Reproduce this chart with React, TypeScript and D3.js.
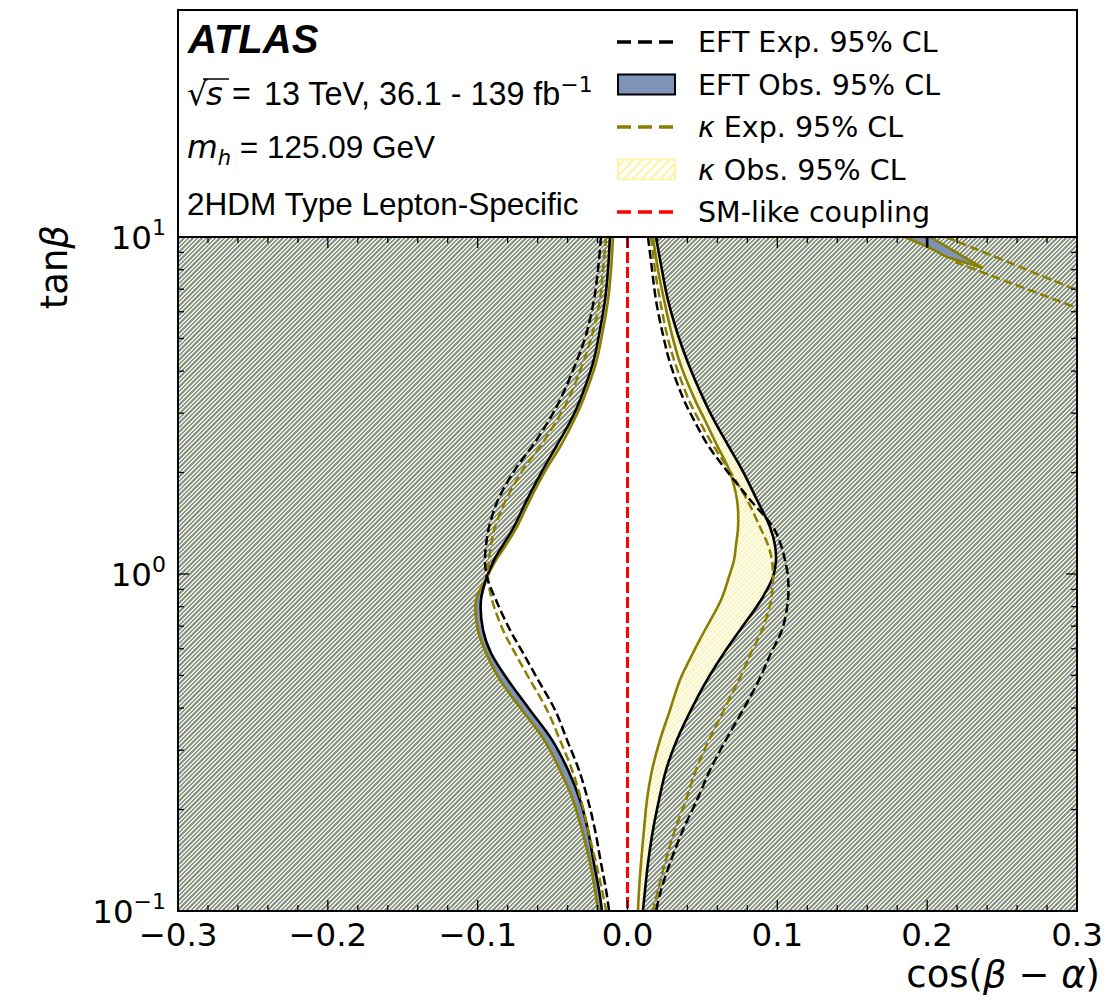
import React from "react";
import * as d3 from "d3";

// ---- data ----
const tanBeta = [10, 7.98, 6.5, 5.12, 4.23, 3.28, 2.86, 2.41, 2.04, 1.66, 1.379, 1.219, 1.1, 0.98, 0.837, 0.682, 0.583, 0.485, 0.395, 0.322, 0.262, 0.2135, 0.174, 0.1388, 0.1154, 0.1];

const eftExpLeft = [-0.0177, -0.0197, -0.0224, -0.0277, -0.0344, -0.0451, -0.0524, -0.0631, -0.0751, -0.0864, -0.0924, -0.0944, -0.0951, -0.0938, -0.0878, -0.0784, -0.0697, -0.0597, -0.0484, -0.0404, -0.0324, -0.0264, -0.0217, -0.0177, -0.0143, -0.0123];
const eftExpRight = [0.0137, 0.0164, 0.019, 0.0237, 0.0284, 0.0377, 0.0444, 0.0537, 0.0657, 0.0818, 0.0971, 0.1024, 0.1051, 0.1071, 0.1071, 0.1031, 0.0958, 0.0878, 0.0771, 0.0657, 0.0551, 0.0464, 0.037, 0.0284, 0.0224, 0.019];
const eftObsLeft = [-0.0117, -0.013, -0.015, -0.019, -0.023, -0.0317, -0.0377, -0.0471, -0.0564, -0.0671, -0.0758, -0.0831, -0.0891, -0.0938, -0.0978, -0.0964, -0.0911, -0.0798, -0.0651, -0.0504, -0.0397, -0.0317, -0.0264, -0.0224, -0.019, -0.017];
const eftObsRight = [0.019, 0.023, 0.027, 0.0337, 0.0404, 0.0511, 0.0577, 0.0671, 0.0764, 0.0864, 0.0951, 0.0984, 0.0991, 0.0971, 0.0891, 0.0751, 0.0644, 0.0531, 0.0424, 0.033, 0.0257, 0.021, 0.017, 0.0137, 0.0117, 0.0103];
const kappaExpLeft = [-0.0143, -0.0164, -0.0184, -0.0237, -0.0297, -0.0397, -0.0471, -0.0577, -0.0697, -0.0811, -0.0884, -0.0911, -0.0924, -0.0931, -0.0904, -0.0831, -0.0751, -0.0651, -0.0537, -0.0451, -0.037, -0.031, -0.0264, -0.021, -0.017, -0.0143];
const kappaExpRight = [0.0157, 0.0184, 0.0217, 0.0264, 0.0317, 0.041, 0.0477, 0.0571, 0.0677, 0.0798, 0.0884, 0.0938, 0.0964, 0.0971, 0.0958, 0.0898, 0.0824, 0.0744, 0.0644, 0.0544, 0.0457, 0.039, 0.0317, 0.025, 0.0204, 0.017];
const kappaObsLeft = [-0.0097, -0.011, -0.013, -0.017, -0.021, -0.0297, -0.0357, -0.0444, -0.0544, -0.0651, -0.0738, -0.0811, -0.0878, -0.0938, -0.1011, -0.0998, -0.0944, -0.0851, -0.0704, -0.0557, -0.0451, -0.0364, -0.0304, -0.025, -0.0217, -0.0197];
const kappaObsRight = [0.017, 0.0204, 0.0244, 0.0297, 0.035, 0.0451, 0.0517, 0.0597, 0.0677, 0.0731, 0.0738, 0.0724, 0.0711, 0.0677, 0.0624, 0.0517, 0.0437, 0.035, 0.0284, 0.0217, 0.0164, 0.013, 0.011, 0.009, 0.0077, 0.007];

// upper-right corner islands
const kappaObsCornerX = [0.1852, 0.2019, 0.2132, 0.2266, 0.2373, 0.2019];
const kappaObsCornerT = [10, 9.28, 8.72, 8.37, 8.09, 10];
const eftObsCornerX = [0.2, 0.2];
const eftObsCornerT = [10, 9.34];
const kappaExpCornerUpperX = [0.2126, 0.3];
const kappaExpCornerUpperT = [10, 6.96];
const kappaExpCornerLowerX = [0.2186, 0.3];
const kappaExpCornerLowerT = [8.43, 6.16];

const smLineX = 0;

const xTicks = [-0.3, -0.2, -0.1, 0.0, 0.1, 0.2, 0.3];
const xTickLabels = ["\u22120.3", "\u22120.2", "\u22120.1", "0.0", "0.1", "0.2", "0.3"];
const yTicks = [0.1, 1, 10];
const yTickExp = ["\u22121", "0", "1"];

const legendLabels = ["EFT Exp. 95% CL", "EFT Obs. 95% CL", "Exp. 95% CL", "Obs. 95% CL", "SM-like coupling"];

const BLUE = "#7f93b8";
const YEL = "#fdf3a8";
const OLIVE = "#8a7f00";
const DEJAVU = "DejaVu Sans";
const HELV = "Liberation Sans";

type P = [number, number];

export default function App() {
  const L = 178, R = 1077, T = 237, B = 911;
  const xS = d3.scaleLinear().domain([-0.3, 0.3]).range([L, R]);
  const yS = d3.scaleLog().domain([0.1, 10]).range([B, T]);
  const smooth = d3.line<P>().x((d) => xS(d[0])).y((d) => yS(d[1])).curve(d3.curveCatmullRom.alpha(0.5));
  const straight = d3.line<P>().x((d) => xS(d[0])).y((d) => yS(d[1]));
  const pts = (xs: number[]): P[] => xs.map((v, i) => [v, tanBeta[i]] as P);
  const zip = (xs: number[], ts: number[]): P[] => xs.map((v, i) => [v, ts[i]] as P);
  const region = (l: number[], r: number[]) => {
    const a = smooth(pts(l))!;
    const b = smooth(pts(r).reverse())!;
    return a + "L" + b.slice(1) + "Z";
  };
  const rectPath = `M${L},${T}H${R}V${B}H${L}Z`;
  const wedge = straight(zip(kappaObsCornerX, kappaObsCornerT))! + "Z";

  const eftExcl = rectPath + region(eftObsLeft, eftObsRight);
  const kapExcl = rectPath + region(kappaObsLeft, kappaObsRight) + wedge;

  const minorX: number[] = d3.range(-30, 31, 2).filter((v) => v % 10 !== 0).map((v) => v / 100);
  const minorY: number[] = [];
  [0.1, 1].forEach((dec) => { for (let k = 2; k <= 9; k++) minorY.push(dec * k); });

  const dashBlack = { stroke: "#000", strokeWidth: 2.5, strokeDasharray: "9,4", fill: "none" };
  const dashOlive = { stroke: OLIVE, strokeWidth: 2.5, strokeDasharray: "9,4", fill: "none" };
  const solidBlack = { stroke: "#000", strokeWidth: 2.6, fill: "none" };
  const solidOlive = { stroke: OLIVE, strokeWidth: 2.6, fill: "none" };

  const rowY = (i: number) => 42 + i * 42.5;

  // hatch stripe polygons for a 9x9 tile, period 4.5 px
  const tile = 9, w = 2.2;
  const bands = [0, 4.5, 9, 13.5, 18].map((c) => `${c},0 ${c + w},0 ${c + w - tile},${tile} ${c - tile},${tile}`);
  const legTile = 18, legW = 3.2;
  const legBands = [0, 9, 18, 27].map((c) => `${c},0 ${c + legW},0 ${c + legW - legTile},${legTile} ${c - legTile},${legTile}`);

  return (
    <svg width={1108} height={1001} style={{ position: "absolute", left: 0, top: 0, background: "#fff" }}>
      <defs>
        <clipPath id="plotClip">
          <rect x={L} y={T} width={R - L} height={B - T} />
        </clipPath>
        <pattern id="hatchK" patternUnits="userSpaceOnUse" x="0" y="0" width={tile} height={tile}>
          {bands.map((b, i) => <polygon key={i} points={b} fill={YEL} shapeRendering="crispEdges" />)}
        </pattern>
        <pattern id="hatchLeg" patternUnits="userSpaceOnUse" x="0" y="0" width={legTile} height={legTile}>
          {legBands.map((b, i) => <polygon key={i} points={b} fill={YEL} />)}
        </pattern>
      </defs>

      <rect x={0} y={0} width={1108} height={1001} fill="#fff" />

      <g clipPath="url(#plotClip)">
        <path d={eftExcl} fill={BLUE} fillRule="evenodd" />
        <path d={kapExcl} fill="url(#hatchK)" fillRule="evenodd" />
        {/* kappa observed */}
        <path d={smooth(pts(kappaObsLeft))!} style={solidOlive} />
        <path d={smooth(pts(kappaObsRight))!} style={solidOlive} />
        <path d={wedge} style={solidOlive} />
        {/* EFT observed */}
        <path d={smooth(pts(eftObsLeft))!} style={solidBlack} />
        <path d={smooth(pts(eftObsRight))!} style={solidBlack} />
        <path d={straight(zip(eftObsCornerX, eftObsCornerT))!} style={solidBlack} />
        {/* kappa expected */}
        <path d={smooth(pts(kappaExpLeft))!} style={dashOlive} />
        <path d={smooth(pts(kappaExpRight))!} style={dashOlive} />
        <path d={straight(zip(kappaExpCornerUpperX, kappaExpCornerUpperT))!} style={dashOlive} />
        <path d={straight(zip(kappaExpCornerLowerX, kappaExpCornerLowerT))!} style={dashOlive} />
        {/* EFT expected */}
        <path d={smooth(pts(eftExpLeft))!} style={dashBlack} />
        <path d={smooth(pts(eftExpRight))!} style={dashBlack} />
        {/* SM line */}
        <line x1={xS(smLineX)} x2={xS(smLineX)} y1={T} y2={B} stroke="#ff0000" strokeWidth={3} strokeDasharray="11,4" />
      </g>

      {/* ticks */}
      <g stroke="#000" strokeWidth={1.3}>
        {minorX.map((v, i) => (
          <g key={"mx" + i}>
            <line x1={xS(v)} x2={xS(v)} y1={B} y2={B - 6} />
            <line x1={xS(v)} x2={xS(v)} y1={T} y2={T + 6} />
          </g>
        ))}
        {xTicks.map((v, i) => (
          <g key={"Mx" + i}>
            <line x1={xS(v)} x2={xS(v)} y1={B} y2={B - 11} />
            <line x1={xS(v)} x2={xS(v)} y1={T} y2={T + 11} />
          </g>
        ))}
        {minorY.map((v, i) => (
          <g key={"my" + i}>
            <line x1={L} x2={L + 6} y1={yS(v)} y2={yS(v)} />
            <line x1={R} x2={R - 6} y1={yS(v)} y2={yS(v)} />
          </g>
        ))}
        {yTicks.map((v, i) => (
          <g key={"My" + i}>
            <line x1={L} x2={L + 11} y1={yS(v)} y2={yS(v)} />
            <line x1={R} x2={R - 11} y1={yS(v)} y2={yS(v)} />
          </g>
        ))}
      </g>

      {/* frames */}
      <rect x={L} y={T} width={R - L} height={B - T} fill="none" stroke="#000" strokeWidth={2} />
      <rect x={L} y={10} width={R - L} height={T - 10} fill="none" stroke="#000" strokeWidth={2} />

      {/* tick labels */}
      {xTicks.map((v, i) => (
        <text key={"xl" + i} x={xS(v)} y={946} textAnchor="middle" fontFamily={DEJAVU} fontSize={32.5}>{xTickLabels[i]}</text>
      ))}
      {yTicks.map((v, i) => (
        <text key={"yl" + i} x={166} y={yS(v) + 12} textAnchor="end" fontFamily={DEJAVU} fontSize={32.5}>
          10<tspan dy={-14} fontSize={22}>{yTickExp[i]}</tspan>
        </text>
      ))}

      {/* axis labels */}
      <text x={1100} y={987} textAnchor="end" fontFamily={DEJAVU} fontSize={37}>
        cos(<tspan fontStyle="italic">β</tspan> − <tspan fontStyle="italic">α</tspan>)
      </text>
      <text transform="translate(67,225) rotate(-90)" textAnchor="end" fontFamily={DEJAVU} fontSize={37}>
        tan<tspan fontStyle="italic">β</tspan>
      </text>

      {/* ATLAS text block */}
      <text x={188} y={53} fontFamily={HELV} fontWeight="bold" fontStyle="italic" fontSize={40}>ATLAS</text>
      <text y={105} fontFamily={HELV} fontSize={32.3}>
        <tspan x={187} fontFamily={DEJAVU}>√</tspan>
        <tspan x={206} fontFamily={DEJAVU} fontStyle="italic">s</tspan>
        <tspan x={232}>=</tspan>
        <tspan x={264}>13 TeV, 36.1 - 139 fb</tspan>
        <tspan dy={-13} fontSize={22} fontFamily={DEJAVU}>−1</tspan>
      </text>
      <line x1={203} x2={229} y1={79} y2={79} stroke="#000" strokeWidth={1.5} />
      <text x={187} y={158} fontFamily={HELV} fontSize={31.5}>
        <tspan fontFamily={DEJAVU} fontStyle="italic">m</tspan><tspan fontFamily={DEJAVU} fontStyle="italic" fontSize={21} dy={7}>h</tspan><tspan dy={-7}> = 125.09 GeV</tspan>
      </text>
      <text x={187} y={215} fontFamily={HELV} fontSize={31.5}>2HDM Type Lepton-Specific</text>

      {/* legend */}
      {legendLabels.map((lab, i) => {
        const cy = rowY(i);
        let handle: React.ReactNode = null;
        if (i === 0) handle = <line x1={617} x2={675} y1={cy} y2={cy} stroke="#000" strokeWidth={3.5} strokeDasharray="14,7" />;
        if (i === 1) handle = <rect x={618} y={cy - 10} width={57} height={20} fill={BLUE} stroke="#000" strokeWidth={2} />;
        if (i === 2) handle = <line x1={617} x2={675} y1={cy} y2={cy} stroke={OLIVE} strokeWidth={3.5} strokeDasharray="14,7" />;
        if (i === 3) handle = (
          <g>
            <rect x={618} y={cy - 10} width={57} height={20} fill="#fff" />
            <rect x={618} y={cy - 10} width={57} height={20} fill="url(#hatchLeg)" stroke={YEL} strokeWidth={2} />
          </g>
        );
        if (i === 4) handle = <line x1={617} x2={675} y1={cy} y2={cy} stroke="#ff0000" strokeWidth={3.5} strokeDasharray="14,7" />;
        return (
          <g key={"lg" + i}>
            {handle}
            <text x={698} y={cy + 10} fontFamily={DEJAVU} fontSize={28.5}>
              {i === 2 || i === 3 ? <tspan fontStyle="italic">κ </tspan> : null}
              {lab}
            </text>
          </g>
        );
      })}
    </svg>
  );
}
